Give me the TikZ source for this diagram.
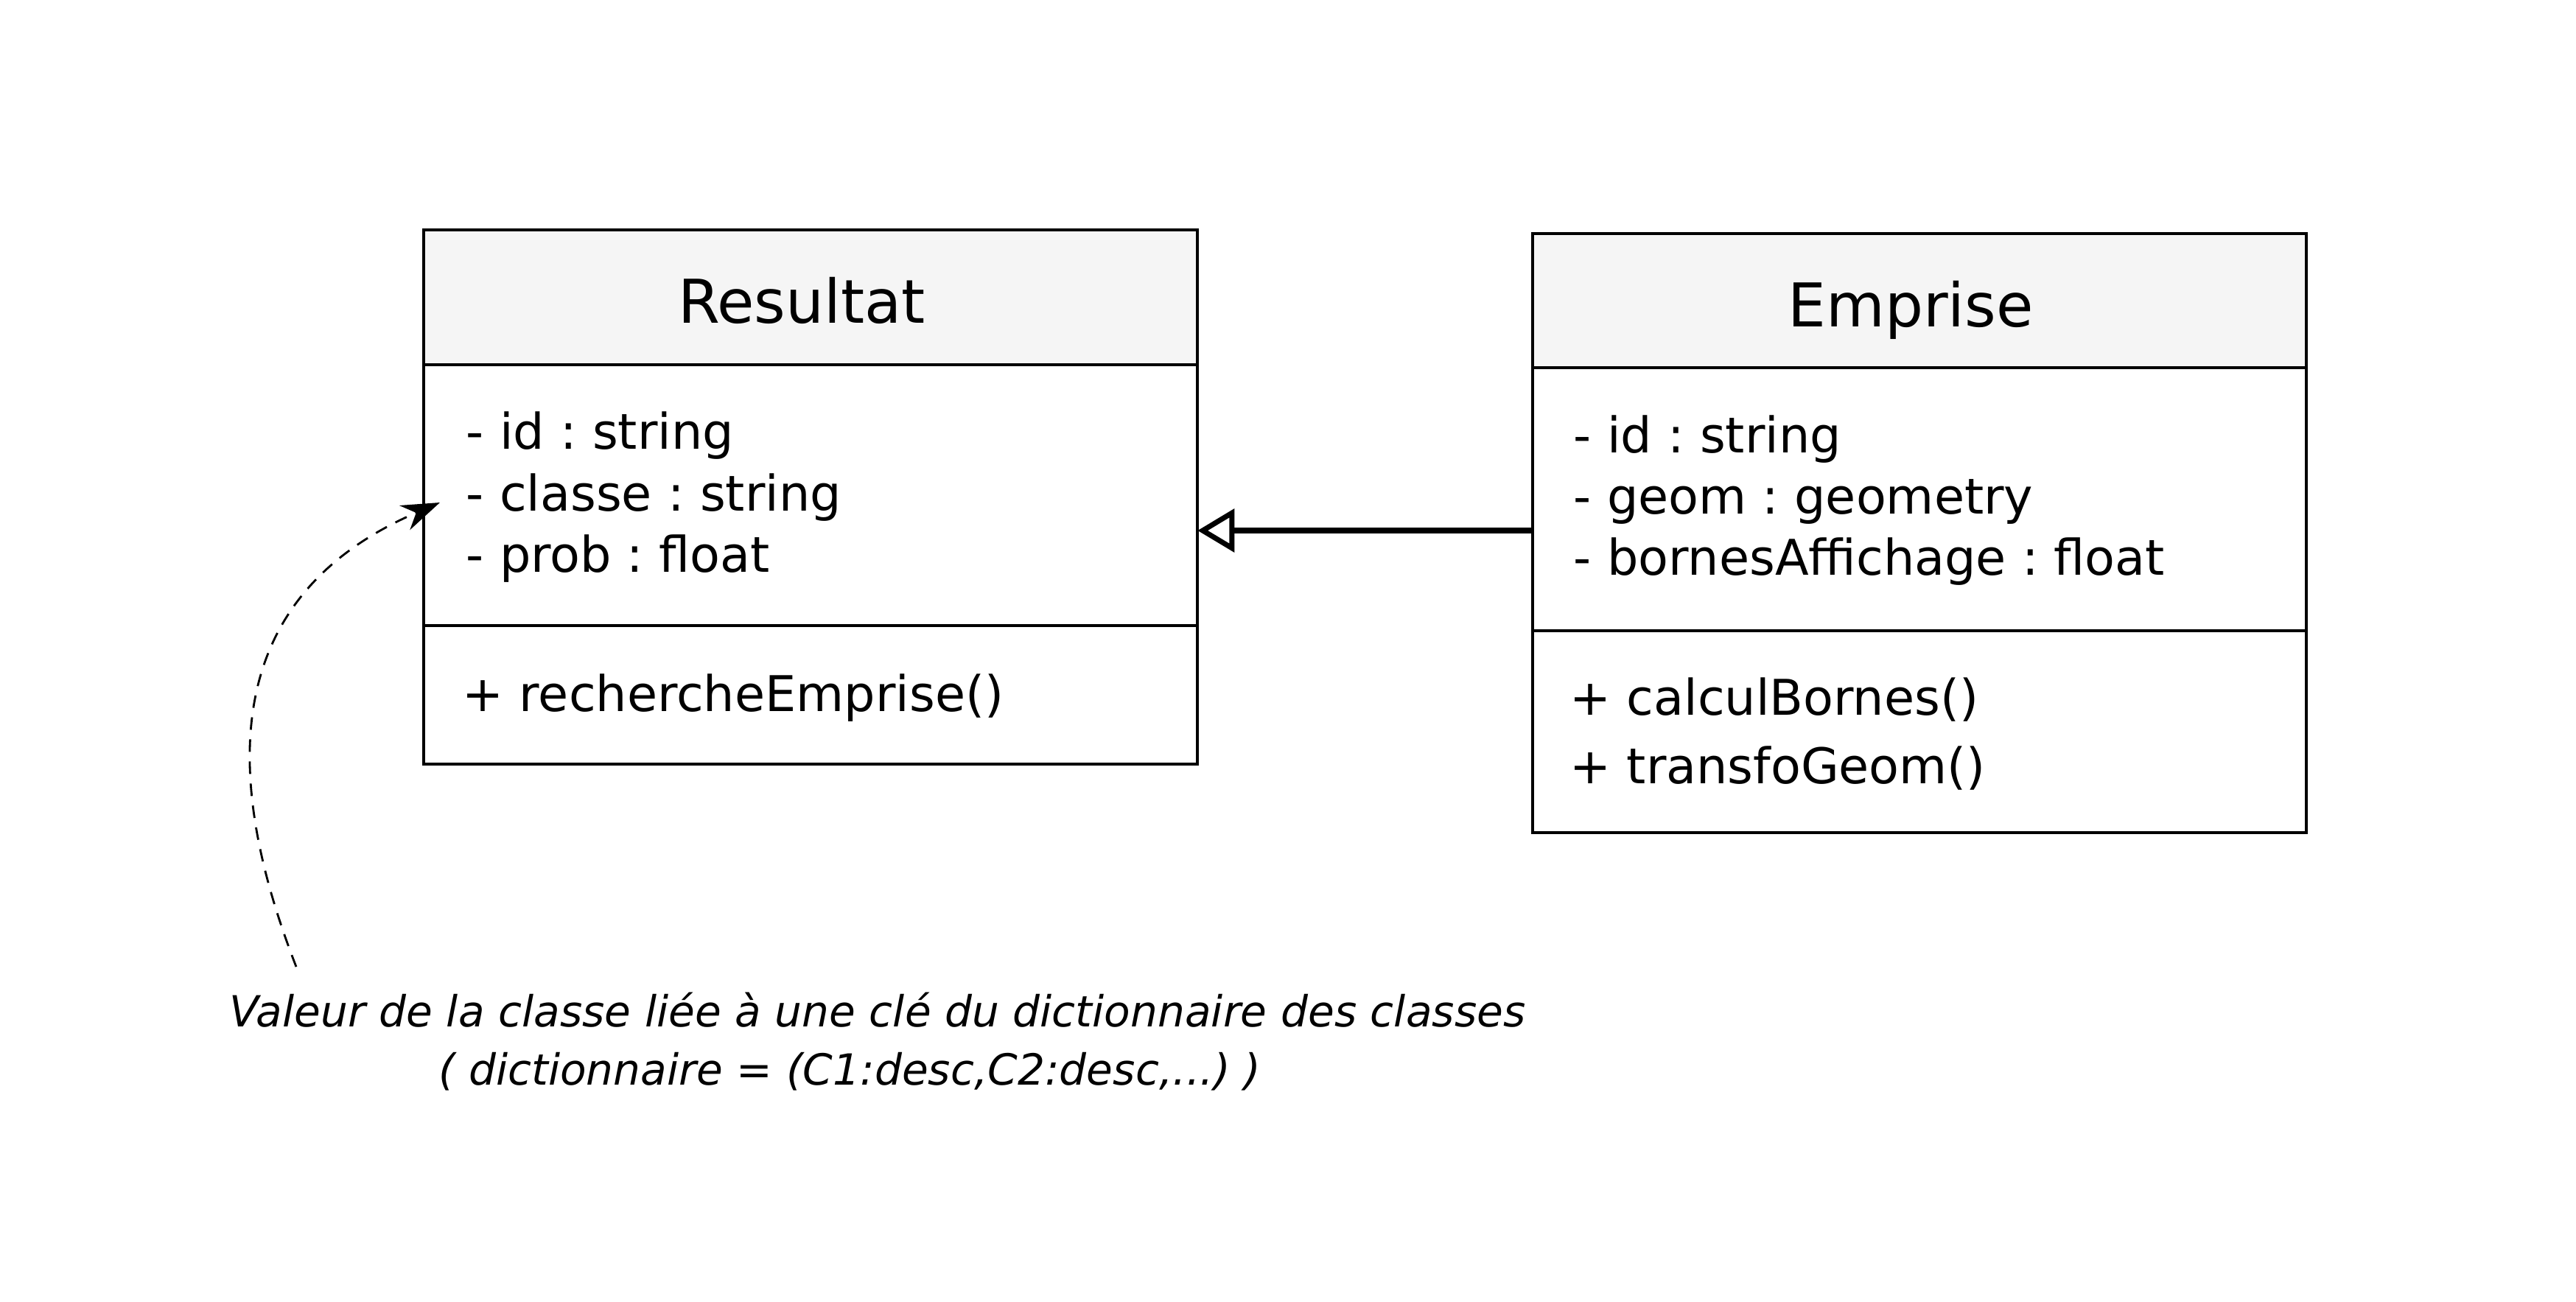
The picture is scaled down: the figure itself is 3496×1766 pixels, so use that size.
\documentclass[tikz,border=0pt]{standalone}
\usepackage{fontspec}
\setmainfont{DejaVu Sans}
\usetikzlibrary{arrows.meta}
\frenchspacing
\definecolor{hdrgray}{HTML}{F5F5F5}
\tikzset{
  compart/.style={draw=black, line width=1.2pt, minimum width=10.5cm, inner sep=0pt, outer sep=0pt},
  hdrbox/.style={compart, fill=hdrgray},
  titletxt/.style={anchor=base, inner sep=0pt, font=\fontsize{23.3pt}{27pt}\selectfont},
  membertxt/.style={anchor=base west, inner sep=0pt, font=\fontsize{19pt}{22pt}\selectfont},
  notetxt/.style={anchor=base, inner sep=0pt, font=\fontsize{16.55pt}{20pt}\selectfont\itshape},
  inherit/.style={line width=2pt, -{Triangle[open, length=0.5cm, width=0.58cm]}},
  notelink/.style={line width=0.8pt, dash pattern=on 0.17cm off 0.13cm, -{Stealth[length=0.52cm, width=0.36cm]}}
}
\begin{document}
\begin{tikzpicture}[x=0.01cm, y=-0.01cm]
\useasboundingbox (0,0) rectangle (3496,1766);
% Resultat
\node[hdrbox, minimum height=1.83cm] (rhead) at (1100,403.5) {};
\node[compart, minimum height=3.54cm] (rattr) at (1100,672) {};
\node[compart, minimum height=1.88cm] (rmeth) at (1100,943) {};
\node[titletxt] (rtitle) at (1088,438) {Resultat};
\node[membertxt] (ra1) at (632,609) {- id : string};
\node[membertxt] (ra2) at (632,693) {- classe : string};
\node[membertxt] (ra3) at (632,776) {- prob : float};
\node[membertxt] (rm1) at (627,965) {+ rechercheEmprise()};
% Emprise
\node[hdrbox, minimum height=1.82cm] (ehead) at (2605,408) {};
\node[compart, minimum height=3.57cm] (eattr) at (2605,677.5) {};
\node[compart, minimum height=2.74cm] (emeth) at (2605,993) {};
\node[titletxt] (etitle) at (2593,443) {Emprise};
\node[membertxt] (ea1) at (2135,614) {- id : string};
\node[membertxt] (ea2) at (2135,697) {- geom : geometry};
\node[membertxt] (ea3) at (2135,780) {- bornesAffichage : float};
\node[membertxt] (em1) at (2130,970) {+ calculBornes()};
\node[membertxt] (em2) at (2130,1063) {+ transfoGeom()};
% inheritance
\coordinate (arrowy) at (0,720);
\draw[inherit] (eattr.west |- arrowy) -- (rattr.east |- arrowy);
% note
\node[notetxt] (note1) at (1191,1393) {Valeur de la classe liée à une clé du dictionnaire des classes};
\node[notetxt] (note2) at (1153,1472) {( dictionnaire = (C1:desc,C2:desc,...) )};
\coordinate (notestart) at (402,1312);
\coordinate (notetarget) at (597,682);
\draw[notelink] (notestart) .. controls (300,1050) and (300,810) .. (notetarget);
\end{tikzpicture}
\end{document}
